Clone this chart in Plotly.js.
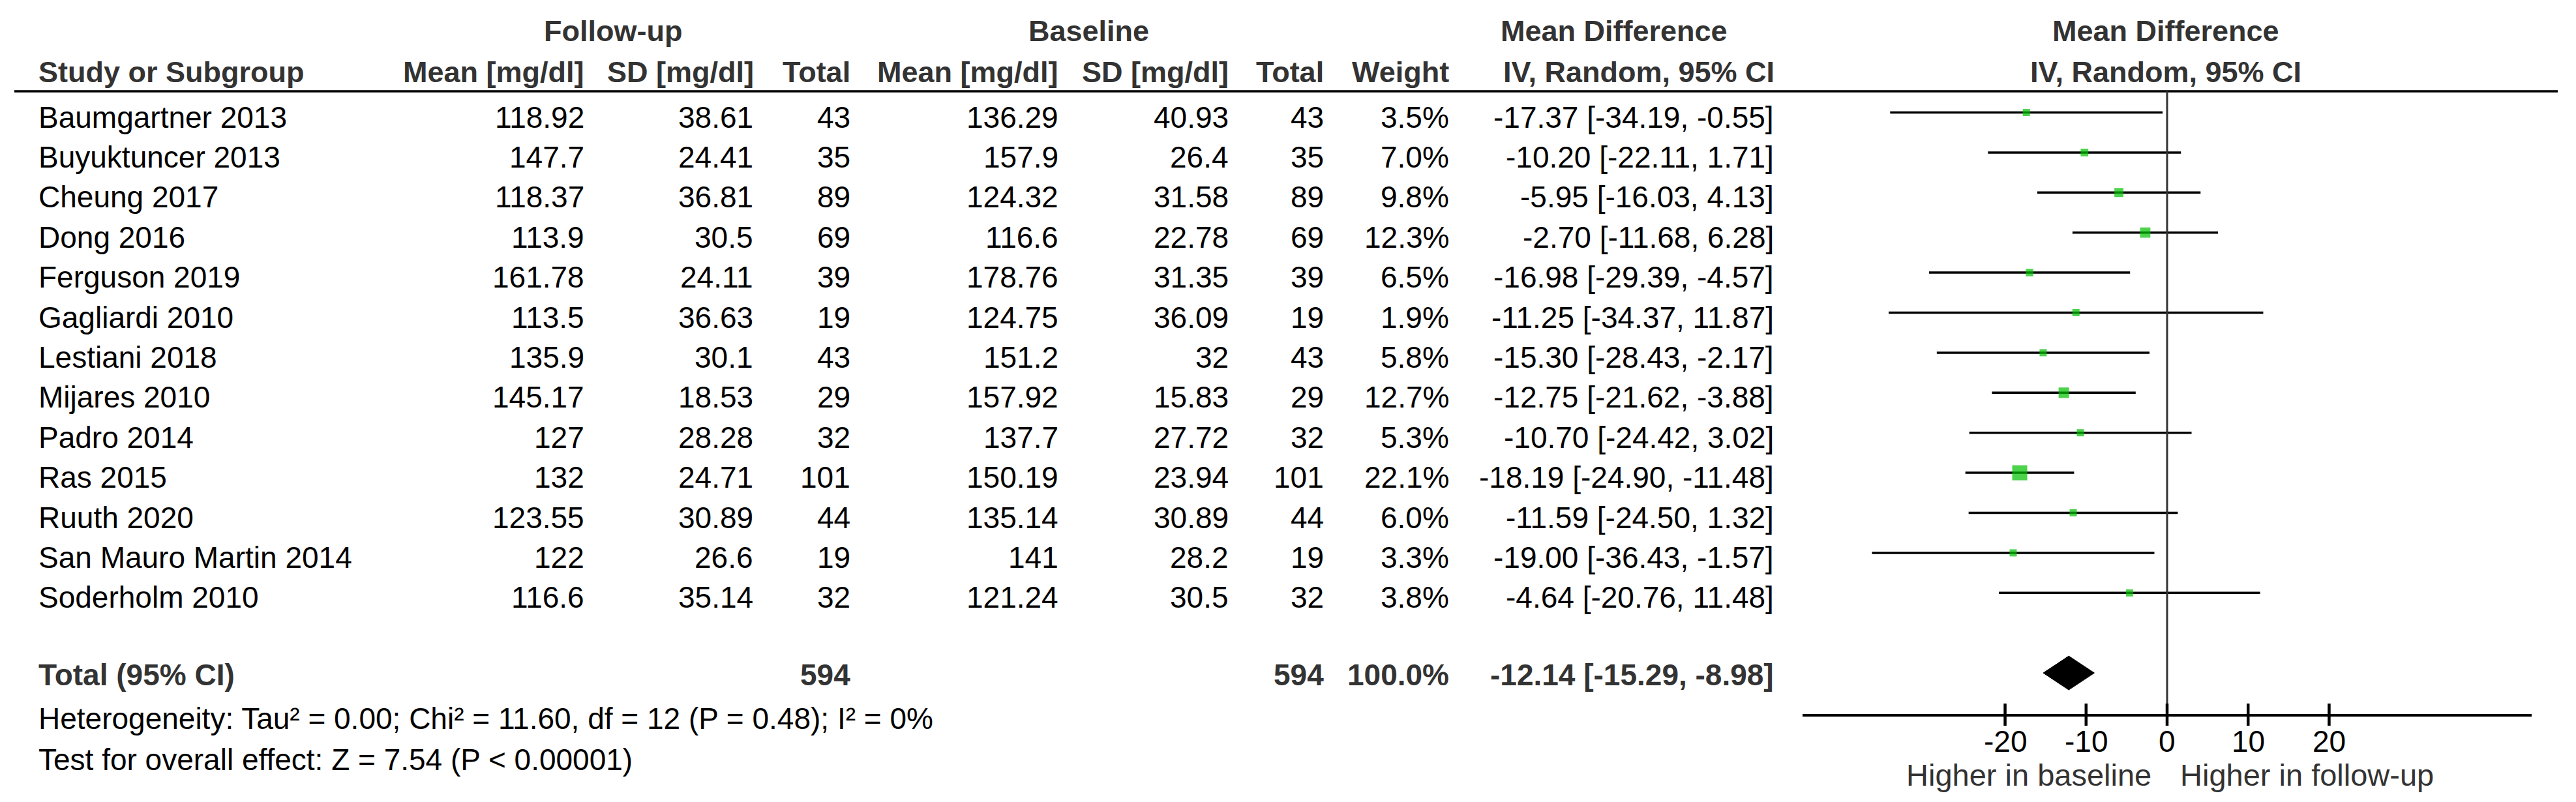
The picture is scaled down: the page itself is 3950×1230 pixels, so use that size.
<!DOCTYPE html>
<html><head><meta charset="utf-8">
<script src="https://cdn.plot.ly/plotly-3.0.1.min.js"></script>
<style>html,body{margin:0;padding:0;background:#fff;}</style>
</head><body>
<div id="chart" style="width:3950px;height:1230px;"></div>
<script>
// ---------------- DATA ----------------
const studies = ["Baumgartner 2013","Buyuktuncer 2013","Cheung 2017","Dong 2016","Ferguson 2019","Gagliardi 2010","Lestiani 2018","Mijares 2010","Padro 2014","Ras 2015","Ruuth 2020","San Mauro Martin 2014","Soderholm 2010"];
const fuMean = [118.92,147.7,118.37,113.9,161.78,113.5,135.9,145.17,127,132,123.55,122,116.6];
const fuSD   = [38.61,24.41,36.81,30.5,24.11,36.63,30.1,18.53,28.28,24.71,30.89,26.6,35.14];
const fuN    = [43,35,89,69,39,19,43,29,32,101,44,19,32];
const blMean = [136.29,157.9,124.32,116.6,178.76,124.75,151.2,157.92,137.7,150.19,135.14,141,121.24];
const blSD   = [40.93,26.4,31.58,22.78,31.35,36.09,32,15.83,27.72,23.94,30.89,28.2,30.5];
const blN    = [43,35,89,69,39,19,43,29,32,101,44,19,32];
const weights = [3.5,7.0,9.8,12.3,6.5,1.9,5.8,12.7,5.3,22.1,6.0,3.3,3.8];
const md     = [-17.37,-10.20,-5.95,-2.70,-16.98,-11.25,-15.30,-12.75,-10.70,-18.19,-11.59,-19.00,-4.64];
const ciLo   = [-34.19,-22.11,-16.03,-11.68,-29.39,-34.37,-28.43,-21.62,-24.42,-24.90,-24.50,-36.43,-20.76];
const ciHi   = [-0.55,1.71,4.13,6.28,-4.57,11.87,-2.17,-3.88,3.02,-11.48,1.32,-1.57,11.48];
const totalFuN = 594, totalBlN = 594, totalWeight = 100.0;
const totalMD = -12.14, totalLo = -15.29, totalHi = -8.98;
const heterogeneityText = "Heterogeneity: Tau² = 0.00; Chi² = 11.60, df = 12 (P = 0.48); I² = 0%";
const overallText = "Test for overall effect: Z = 7.54 (P < 0.00001)";
const axisTicks = [-20,-10,0,10,20];
const axisTickLabels = ["-20","-10","0","10","20"];
const leftLabel = "Higher in baseline", rightLabel = "Higher in follow-up";

// ---------------- LAYOUT GEOMETRY ----------------
const W = 3950, H = 1230;
const ROW = 61.4, Y0 = 172.5;           // pixel y of CI line for row 0
const yTop = -Y0/ROW, yBot = (H-Y0)/ROW;
const pxRow = p => (p - Y0)/ROW;        // pixel -> row units
const TXT = 7/ROW;                      // text centre below line
const px = x => x/W;
const FONT = "Liberation Sans, Arial, sans-serif";
const totalRow = 14;
const headerLineRow = pxRow(140);
const axisRow = pxRow(1096);
const tickHalf = 17/ROW;

const ann = [];
function txt(x, y, text, anchor, opts={}) {
  ann.push({xref:opts.xref||'paper', yref:'y', x:opts.xref?x:px(x), y:y, text:text, xanchor:anchor, yanchor:'middle',
    showarrow:false, borderpad:0,
    font:{family:FONT, size:opts.size||46, color:opts.color||'#000'}});
}
const bold = t => '<b>'+t+'</b>';
const HC = '#333';
// header row 1
txt(940, pxRow(47), bold('Follow-up'), 'center', {color:HC, size:45});
txt(1669, pxRow(47), bold('Baseline'), 'center', {color:HC, size:45});
txt(2475, pxRow(47), bold('Mean Difference'), 'center', {color:HC, size:45});
txt(3321, pxRow(47), bold('Mean Difference'), 'center', {color:HC, size:45});
// header row 2
const hy = pxRow(110);
txt(58, hy, bold('Study or Subgroup'), 'left', {color:HC, size:45});
txt(897, hy, bold('Mean [mg/dl]'), 'right', {color:HC, size:45});
txt(1157, hy, bold('SD [mg/dl]'), 'right', {color:HC, size:45});
txt(1305, hy, bold('Total'), 'right', {color:HC, size:45});
txt(1624, hy, bold('Mean [mg/dl]'), 'right', {color:HC, size:45});
txt(1885, hy, bold('SD [mg/dl]'), 'right', {color:HC, size:45});
txt(2031, hy, bold('Total'), 'right', {color:HC, size:45});
txt(2223, hy, bold('Weight'), 'right', {color:HC, size:45});
txt(2722, hy, bold('IV, Random, 95% CI'), 'right', {color:HC, size:45});
txt(3321, hy, bold('IV, Random, 95% CI'), 'center', {color:HC, size:45});

const f2 = v => v.toFixed(2);
studies.forEach((s,i) => {
  const y = i + TXT;
  txt(58, y, s, 'left');
  txt(897, y, String(fuMean[i]), 'right');
  txt(1156, y, String(fuSD[i]), 'right');
  txt(1305, y, String(fuN[i]), 'right');
  txt(1624, y, String(blMean[i]), 'right');
  txt(1885, y, String(blSD[i]), 'right');
  txt(2031, y, String(blN[i]), 'right');
  txt(2223, y, weights[i].toFixed(1)+'%', 'right');
  txt(2721, y, f2(md[i])+' ['+f2(ciLo[i])+', '+f2(ciHi[i])+']', 'right');
});
// total row
const ty = pxRow(1035);
txt(58, ty, bold('Total (95% CI)'), 'left', {color:HC});
txt(1305, ty, bold(String(totalFuN)), 'right', {color:HC});
txt(2031, ty, bold(String(totalBlN)), 'right', {color:HC});
txt(2223, ty, bold(totalWeight.toFixed(1)+'%'), 'right', {color:HC});
txt(2721, ty, bold(f2(totalMD)+' ['+f2(totalLo)+', '+f2(totalHi)+']'), 'right', {color:HC});
txt(58, pxRow(1102), heterogeneityText, 'left');
txt(58, pxRow(1165), overallText, 'left');
// axis tick labels (placed at the tick values on the x scale)
axisTicks.forEach((t,k) => txt(t, pxRow(1137), axisTickLabels[k], 'center', {xref:'x'}));
// favours labels
txt(3300, pxRow(1188), leftLabel, 'right', {color:HC, size:47});
txt(3342, pxRow(1188), rightLabel, 'left', {color:HC, size:47});

// ---------------- TRACES ----------------
const rows = studies.map((_,i)=>i);
const ciX = [], ciY = [];
rows.forEach(i => { ciX.push(ciLo[i], ciHi[i], null); ciY.push(i, i, null); });
const ciTrace = {x:ciX, y:ciY, mode:'lines', type:'scatter', line:{color:'#000', width:3.5},
  hoverinfo:'skip', showlegend:false};
const sqTrace = {x:md, y:rows, mode:'markers', type:'scatter',
  marker:{symbol:'square', color:'#00c000', size:weights.map(w=>Math.max(11, 0.75*w + 6.5)), line:{width:0}},
  showlegend:false, hoverinfo:'skip'};
const dh = 26/ROW;
const diamond = {x:[totalLo,totalMD,totalHi,totalMD,totalLo], y:[totalRow,totalRow-dh,totalRow,totalRow+dh,totalRow],
  mode:'lines', fill:'toself', fillcolor:'#000', line:{color:'#000', width:1}, type:'scatter',
  showlegend:false, hoverinfo:'skip'};

// tick marks crossing the axis line, one shape per tick value
const tickShapes = axisTicks.map(t => ({type:'line', xref:'x', yref:'y', x0:t, x1:t,
  y0:axisRow - tickHalf, y1:axisRow + tickHalf, line:{color:'#000', width:4.5}, layer:'above'}));

const dom = [2764/W, 3882/W];
const axPos = 1 - 1096/H;
const layout = {
  width:W, height:H, margin:{l:0,r:0,t:0,b:0}, paper_bgcolor:'#fff', plot_bgcolor:'rgba(0,0,0,0)',
  showlegend:false,
  xaxis:{domain:dom, range:[-45,45], anchor:'free', position:axPos, showline:true, linecolor:'#000', linewidth:3.5,
    ticks:'', showticklabels:false, showgrid:false, zeroline:false, fixedrange:true},
  yaxis:{domain:[0,1], range:[yBot, yTop], visible:false, showgrid:false, zeroline:false, fixedrange:true},
  shapes:[
    {type:'line', xref:'paper', yref:'y', x0:px(22), x1:px(3922), y0:headerLineRow, y1:headerLineRow, line:{color:'#000', width:3.5}},
    {type:'line', xref:'x', yref:'y', x0:0, x1:0, y0:headerLineRow, y1:axisRow, line:{color:'#333', width:3}}
  ].concat(tickShapes),
  annotations:ann
};
Plotly.newPlot('chart', [ciTrace, sqTrace, diamond], layout, {staticPlot:true, displayModeBar:false});
</script>
</body></html>
